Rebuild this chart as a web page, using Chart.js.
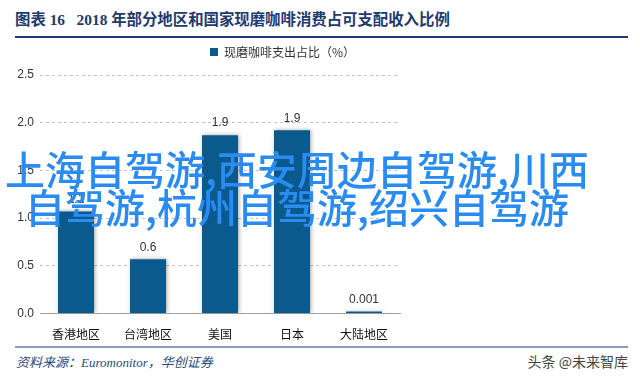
<!DOCTYPE html>
<html>
<head>
<meta charset="utf-8">
<script src="https://cdn.jsdelivr.net/npm/chart.js@4"></script>
<style>
  body { margin: 0; width: 640px; height: 377px; background: #fff; position: relative; overflow: hidden; font-family: "Noto Sans CJK SC", sans-serif; }
  #title { position: absolute; left: 15px; top: 7px; font-family: "Liberation Serif", "Noto Sans CJK SC", serif; font-weight: bold; font-size: 15.4px; color: #1f3a6e; white-space: pre; }
  #titleLine { position: absolute; left: 15px; top: 36px; width: 613px; height: 2px; background: #1f3a6e; }
  #footLine { position: absolute; left: 15px; top: 346px; width: 613px; height: 2px; background: #8a9bb8; }
  #source { position: absolute; left: 16px; top: 352px; font-family: "Liberation Serif", "Noto Sans CJK SC", serif; font-style: italic; font-size: 13px; color: #2a4a80; }
  #brand { position: absolute; right: 12px; top: 351px; font-size: 14px; color: #444; }
  #wrap { position: absolute; left: 0; top: 40px; width: 565px; height: 308px; }
  #mark { position: absolute; left: 0; top: 149px; width: 594px; text-align: center; font-size: 40px; line-height: 38px; font-weight: 500; color: #2a8cf0; pointer-events: none; }
</style>
</head>
<body>
<div id="title">图表 16   2018 年部分地区和国家现磨咖啡消费占可支配收入比例</div>
<div id="titleLine"></div>
<div id="wrap"><canvas id="chart"></canvas></div>
<div id="footLine"></div>
<div id="source">资料来源：Euromonitor，华创证券</div>
<div id="brand">头条 @未来智库</div>
<div id="mark">上海自驾游,西安周边自驾游,川西<br>自驾游,杭州自驾游,绍兴自驾游</div>
<script>
const regions = ['香港地区', '台湾地区', '美国', '日本', '大陆地区'];
const shares = [1.07, 0.57, 1.87, 1.92, 0.001];
const shareLabels = ['1.1', '0.6', '1.9', '1.9', '0.001'];
const yTicks = [0, 0.5, 1.0, 1.5, 2.0, 2.5];

const barColor = '#0b5a8e';

// bar shadow like the excel export
const shadowPlugin = {
    id: 'shadow',
    beforeDatasetDraw(chart) {
        const c = chart.ctx;
        c.save();
        c.shadowColor = 'rgba(0,0,0,0.35)';
        c.shadowBlur = 4;
        c.shadowOffsetX = 1;
    },
    afterDatasetDraw(chart) {
        chart.ctx.restore();
    }
};

// a bit more room under the legend
const legendGap = {
    id: 'legendGap',
    beforeInit(chart) {
        const fit = chart.legend.fit;
        chart.legend.fit = function () {
            fit.bind(chart.legend)();
            this.height += 7;
        };
    }
};

const valueLabels = {
    id: 'valueLabels',
    afterDatasetsDraw(chart) {
        const c = chart.ctx;
        const meta = chart.getDatasetMeta(0);
        c.save();
        c.font = '12px "Liberation Sans", Arial, sans-serif';
        c.fillStyle = '#333';
        c.textAlign = 'center';
        c.textBaseline = 'bottom';
        meta.data.forEach((bar, i) => {
            c.fillText(shareLabels[i], bar.x, bar.y - 6);
        });
        c.restore();
    }
};

const ctx = document.getElementById('chart').getContext('2d');
const myChart = new Chart(ctx, {
    type: 'bar',
    data: {
        labels: regions,
        datasets: [{
            label: '现磨咖啡支出占比（%）',
            data: shares,
            backgroundColor: barColor,
            borderWidth: 0,
            barPercentage: 0.5,
            categoryPercentage: 1,
            minBarLength: 2
        }]
    },
    options: {
        responsive: true,
        maintainAspectRatio: false,
        animation: false,
        layout: { padding: 0 },
        plugins: {
            legend: {
                display: true,
                position: 'top',
                labels: {
                    boxWidth: 8,
                    boxHeight: 8,
                    color: '#333',
                    padding: 6,
                    font: { size: 12, family: '"Noto Sans CJK SC", sans-serif' }
                }
            },
            tooltip: { enabled: false }
        },
        scales: {
            x: {
                grid: { display: false },
                border: { display: true, color: '#a0a0a0', width: 1 },
                ticks: {
                    color: '#111',
                    padding: 6,
                    font: { size: 12, family: '"Noto Sans CJK SC", sans-serif' }
                }
            },
            y: {
                min: 0,
                max: 2.5,
                afterFit(axis) { axis.width = 40; },
                afterBuildTicks(axis) {
                    axis.ticks = yTicks.map(v => ({ value: v }));
                },
                grid: {
                    drawTicks: false,
                    color: c => c.tick && c.tick.value === 0 ? 'rgba(0,0,0,0)' : '#c4c4c4'
                },
                border: { display: false, dash: [3, 3] },
                ticks: {
                    color: '#333',
                    padding: 6,
                    font: { size: 12, family: '"Liberation Sans", Arial, sans-serif' },
                    callback: v => v.toFixed(1)
                }
            },
            // empty right axis, only keeps the blank area right of the plot
            blank: {
                position: 'right',
                min: 0,
                max: 2.5,
                afterFit(axis) { axis.width = 165; },
                grid: { display: false },
                border: { display: false },
                ticks: { display: false }
            }
        }
    },
    plugins: [legendGap, shadowPlugin, valueLabels]
});
</script>
</body>
</html>
